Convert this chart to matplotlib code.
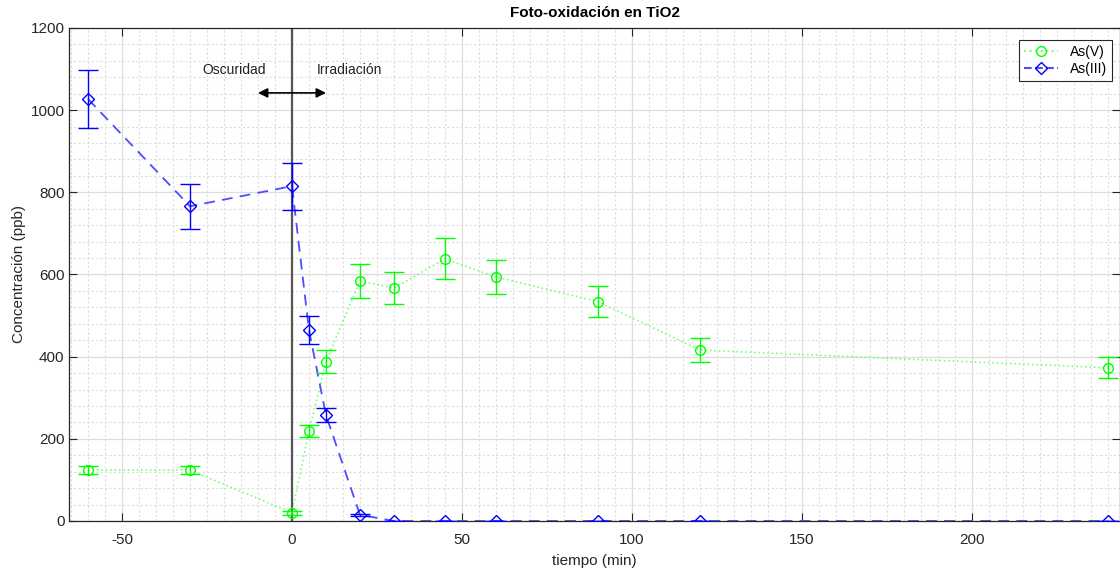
import matplotlib
matplotlib.use('Agg')
import matplotlib.pyplot as plt
import numpy as np
from matplotlib.ticker import MultipleLocator

plt.rcParams['font.family'] = ['Liberation Sans', 'DejaVu Sans']
plt.rcParams['axes.unicode_minus'] = False

# tiempo (min)
t = [-60, -30, 0, 5, 10, 20, 30, 45, 60, 90, 120, 240]
as_v = [124, 124, 20, 219, 388, 584, 567, 638, 594, 534, 416, 373]
as_v_err = [10, 10, 5, 15, 27, 41, 39, 50, 41, 38, 30, 26]
as_iii = [1027, 766, 815, 465, 258, 15, 0, 0, 0, 0, 0, 0]
as_iii_err = [70, 55, 57, 33, 18, 3, 0, 0, 0, 0, 0, 0]

fig = plt.figure(figsize=(11.2, 5.69), dpi=100)
ax = fig.add_axes([0.0619, 0.0844, 0.9381, 0.8664])

green = '#00ff00'
blue = '#0000ff'

# lines (lighter) then error bars + markers
ax.plot(t, as_v, ':', color='#7aff7a', lw=1.2, zorder=2)
ax.plot(t, as_iii, '--', color='#4d4dff', lw=1.3, dashes=(6, 4), zorder=2)
ax.errorbar(t, as_v, yerr=as_v_err, fmt='o', mfc='none', mec=green, ms=7,
            ecolor=green, elinewidth=1.0, capsize=7, capthick=1.0, zorder=3)
ax.errorbar(t, as_iii, yerr=as_iii_err, fmt='D', mfc='none', mec=blue, ms=6,
            ecolor=blue, elinewidth=1.0, capsize=7, capthick=1.0, zorder=3)

# legend proxies
l1, = ax.plot([], [], ':', color='#7aff7a', marker='o', mfc='none', mec=green, ms=7)
l2, = ax.plot([], [], '--', color='#4d4dff', marker='D', mfc='none', mec=blue, ms=6)
leg = ax.legend([l1, l2], ['As(V)', 'As(III)'], loc='upper right',
                bbox_to_anchor=(0.992, 0.976), fancybox=False, framealpha=1,
                edgecolor='#262626', fontsize=10, handlelength=2.5,
                borderpad=0.35, labelspacing=0.25, borderaxespad=0)
leg.get_frame().set_linewidth(0.8)

# dark/light boundary
ax.axvline(0, color='#555555', lw=1.6, zorder=1.5)
ax.annotate('', xy=(-10, 1042), xytext=(10, 1042),
            arrowprops=dict(arrowstyle='<|-|>', color='black', lw=1.2,
                            mutation_scale=14, shrinkA=0, shrinkB=0))
ax.text(-17, 1097, 'Oscuridad', ha='center', va='center', fontsize=10, color='#222222')
ax.text(17, 1097, 'Irradiación', ha='center', va='center', fontsize=10, color='#222222')

ax.set_xlim(-65.5, 243.6)
ax.set_ylim(0, 1200)
ax.xaxis.set_major_locator(MultipleLocator(50))
ax.xaxis.set_minor_locator(MultipleLocator(5))
ax.yaxis.set_major_locator(MultipleLocator(200))
ax.yaxis.set_minor_locator(MultipleLocator(40))
ax.grid(which='major', color='#dddddd', lw=0.9, ls='-')
ax.grid(which='minor', color='#dddddd', lw=0.8, ls=(0, (2, 2)))
ax.set_axisbelow(True)
ax.tick_params(which='major', direction='in', length=6, top=True, right=True,
               labelsize=11, colors='#262626', width=0.8)
ax.tick_params(axis='x', which='major', pad=9)
ax.tick_params(which='minor', length=0)
for s in ax.spines.values():
    s.set_color('#262626')
    s.set_linewidth(0.9)

ax.set_title('Foto-oxidación en TiO2', fontsize=11, fontweight='bold', pad=8)
ax.set_xlabel('tiempo (min)', fontsize=11, color='#262626', labelpad=5)
ax.set_ylabel('Concentración (ppb)', fontsize=11, color='#262626', labelpad=3)

fig.savefig('out.png', dpi=100)
